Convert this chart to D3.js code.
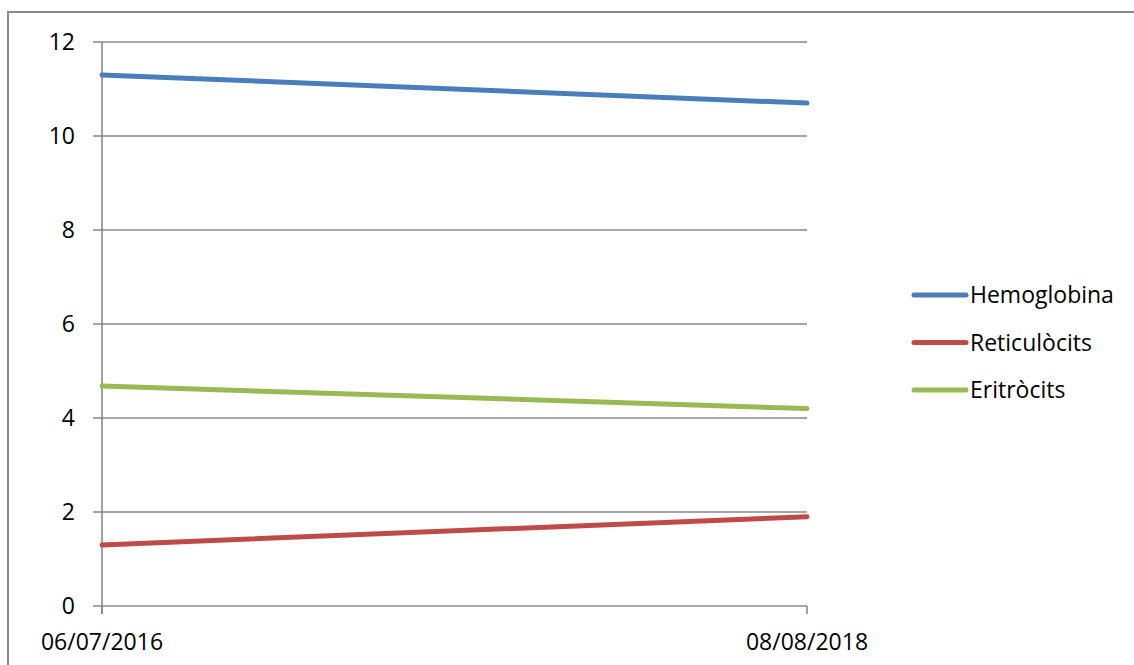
<!DOCTYPE html>
<html>
<head>
<meta charset="utf-8">
<script src="https://cdn.jsdelivr.net/npm/d3@7"></script>
<style>
  body { margin: 0; background: #fff; }
  svg text { font-family: "Open Sans", sans-serif; fill: #000; }
</style>
</head>
<body>
<svg width="1134" height="665"></svg>
<script>
const dates = ["06/07/2016", "08/08/2018"];
const hemoglobina = [11.3, 10.7];
const reticulocits = [1.3, 1.9];
const eritrocits = [4.68, 4.2];
const yTicks = [0, 2, 4, 6, 8, 10, 12];

const seriesNames = ["Hemoglobina", "Reticulòcits", "Eritròcits"];
const seriesColors = ["#4a7ebb", "#be4b48", "#98b954"];
const seriesValues = [hemoglobina, reticulocits, eritrocits];

const svg = d3.select("svg"),
      margin = { top: 42, left: 102 },
      width = 705,
      height = 564;

// outer border
svg.append("rect")
  .attr("x", 8).attr("y", 12)
  .attr("width", 1140).attr("height", 670)
  .attr("fill", "none")
  .attr("stroke", "#898989")
  .attr("stroke-width", 2);

const g = svg.append("g").attr("transform", `translate(${margin.left},${margin.top})`);

const x = d3.scalePoint().domain(dates).range([0, width]);
const y = d3.scaleLinear().domain([0, 12]).range([height, 0]);

// gridlines
g.selectAll(".grid")
  .data(yTicks)
  .enter()
  .append("line")
  .attr("x1", -9).attr("x2", width)
  .attr("y1", d => y(d)).attr("y2", d => y(d))
  .attr("stroke", "#888")
  .attr("stroke-width", 1.6);

// y axis line
g.append("line")
  .attr("x1", 0).attr("x2", 0)
  .attr("y1", 0).attr("y2", height + 8)
  .attr("stroke", "#888")
  .attr("stroke-width", 1.6);

// x ticks
g.selectAll(".xtick")
  .data(dates)
  .enter()
  .append("line")
  .attr("x1", d => x(d)).attr("x2", d => x(d))
  .attr("y1", height).attr("y2", height + 8)
  .attr("stroke", "#888")
  .attr("stroke-width", 1.6);

// y labels
g.selectAll(".ylabel")
  .data(yTicks)
  .enter()
  .append("text")
  .attr("x", -27)
  .attr("y", d => y(d))
  .attr("dy", "0.35em")
  .attr("text-anchor", "end")
  .style("font-size", "23px")
  .text(d => d);

// x labels
g.selectAll(".xlabel")
  .data(dates)
  .enter()
  .append("text")
  .attr("x", d => x(d))
  .attr("y", height + 44)
  .attr("text-anchor", "middle")
  .style("font-size", "23px")
  .text(d => d);

// lines
const line = d3.line()
  .x((d, i) => x(dates[i]))
  .y(d => y(d));

seriesValues.forEach((vals, i) => {
  g.append("path")
    .datum(vals)
    .attr("d", line)
    .attr("fill", "none")
    .attr("stroke", seriesColors[i])
    .attr("stroke-width", 5)
    .attr("stroke-linecap", "round");
});

// Legend
const legend = svg.append("g").attr("transform", "translate(914,295)");

legend.selectAll("g")
  .data(seriesNames)
  .enter()
  .append("g")
  .attr("transform", (d, i) => `translate(0,${i * 47.5})`)
  .each(function(d, i) {
    d3.select(this).append("line")
      .attr("x1", 0).attr("x2", 52)
      .attr("stroke", seriesColors[i])
      .attr("stroke-width", 5)
      .attr("stroke-linecap", "round");
    d3.select(this).append("text")
      .attr("x", 56)
      .attr("dy", "0.35em")
      .style("font-size", "23px")
      .text(d);
  });
</script>
</body>
</html>
